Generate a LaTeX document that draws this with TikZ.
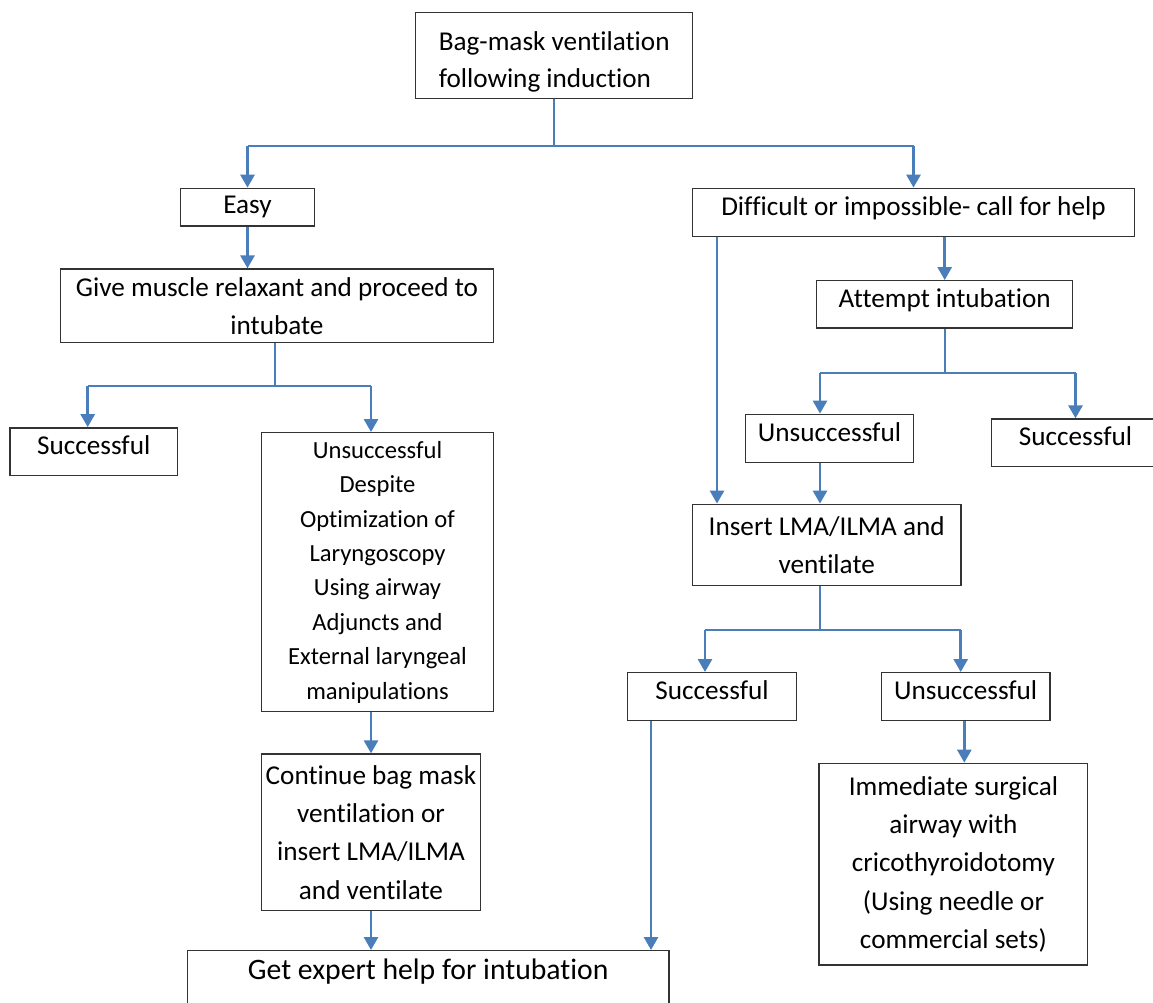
\documentclass[tikz,border=0pt]{standalone}
\usepackage{fontspec}
\setmainfont{Carlito}[Ligatures=NoCommon]
\usepackage{tikz}
\usetikzlibrary{arrows.meta}
\definecolor{flowblue}{RGB}{74,126,187}

\tikzset{
  box/.style={draw=black!80, line width=1.4pt, inner sep=0pt, align=center, font=\fontsize{27.2}{38.3}\selectfont},
  oneline/.style={text height=18pt, text depth=12pt},
  bar/.style={draw=flowblue, line width=2pt},
  arr/.style={draw=flowblue, line width=2.8pt, -{Triangle[width=14pt,length=13pt]}},
}

\begin{document}
\begin{tikzpicture}[x=1pt,y=-1pt]
\useasboundingbox (0,0) rectangle (1153,1003);
\clip (0,0) rectangle (1153,1003);

% boxes, left side
\node [box, align=left, font=\fontsize{27.2}{37}\selectfont, minimum width=277pt, minimum height=86pt] (start) at (554.2,55.7) {\rule{0pt}{31pt}Bag-mask ventilation\\following induction};
\node [box, minimum width=133.6pt, minimum height=37.7pt] (easy) at (247.5,207.2) {Easy};
\node [box, minimum width=432.6pt, minimum height=73.7pt] (give) at (277,305.9) {Give muscle relaxant and proceed to\\intubate};
\node [box, oneline, minimum width=167.4pt, minimum height=47.5pt] (sucl) at (93.7,451.6) {Successful};
\node [box, font=\fontsize{24.6}{34.4}\selectfont, minimum width=231.6pt, minimum height=279pt] (unsl) at (377.5,572.2) {Unsuccessful\\Despite\\Optimization of\\Laryngoscopy\\Using airway\\Adjuncts and\\External laryngeal\\manipulations};
\node [box, minimum width=218.6pt, minimum height=156.7pt] (cont) at (371,832.4) {Continue bag mask\\ventilation or\\insert LMA/ILMA\\and ventilate};
\node [box, font=\fontsize{29.7}{38}\selectfont, anchor=north, minimum width=481.7pt, inner ysep=10pt, text height=19pt, text depth=80pt] (get) at (428.2,950) {Get expert help for intubation};

% boxes, right side
\node [box, oneline, minimum width=442.4pt, minimum height=48.4pt] (diff) at (913.5,212.5) {Difficult or impossible- call for help};
\node [box, oneline, minimum width=256pt, minimum height=47.3pt] (att) at (944.7,304.4) {Attempt intubation};
\node [box, oneline, minimum width=167.6pt, minimum height=48pt] (unsr) at (829.5,438.3) {Unsuccessful};
\node [box, oneline, minimum width=167.6pt, minimum height=47.7pt] (sucr) at (1075.5,442.9) {Successful};
\node [box, minimum width=268.7pt, minimum height=81.4pt] (ins) at (826.7,545) {Insert LMA/ILMA and\\ventilate};
\node [box, oneline, minimum width=168.6pt, minimum height=48pt] (sucb) at (712,696.7) {Successful};
\node [box, oneline, minimum width=168.7pt, minimum height=48pt] (unsb) at (965.7,696.7) {Unsuccessful};
\node [box, minimum width=268.7pt, minimum height=201.7pt] (imm) at (953.4,864.2) {Immediate surgical\\airway with\\cricothyroidotomy\\(Using needle or\\commercial sets)};

% first split
\draw [bar] (start.south) -- ++(0,46.3) coordinate (s1);
\draw [bar] (easy.north |- s1) -- (diff.north |- s1);
\draw [arr] (easy.north |- s1) -- (easy.north);
\draw [arr] (diff.north |- s1) -- (diff.north);

% easy branch
\draw [arr] (easy.south) -- (easy.south |- give.north);
\draw [bar] ([xshift=-2pt]give.south) -- ++(0,42.3) coordinate (s2);
\draw [bar] ([xshift=-6pt]sucl.north |- s2) -- (cont.north |- s2);
\draw [arr] ([xshift=-6pt]sucl.north |- s2) -- ([xshift=-6pt]sucl.north);
\draw [arr] (cont.north |- s2) -- (cont.north |- unsl.north);
\draw [arr] (cont.north |- unsl.south) -- (cont.north);
\draw [arr] (cont.south) -- (cont.south |- get.north);

% difficult branch
\draw [arr] ([xshift=25.4pt]diff.south west) coordinate (d1) -- (d1 |- ins.north);
\draw [arr] (att.north |- diff.south) -- (att.north);
\draw [bar] (att.south) -- ++(0,44.3) coordinate (s3);
\draw [bar] ([xshift=-9.5pt]unsr.north |- s3) -- (sucr.north |- s3);
\draw [arr] ([xshift=-9.5pt]unsr.north |- s3) -- ([xshift=-9.5pt]unsr.north);
\draw [arr] (sucr.north |- s3) -- (sucr.north);
\draw [arr] ([xshift=-9.5pt]unsr.south) -- ([xshift=-9.5pt]unsr.south |- ins.north);

% after the LMA
\draw [bar] ([xshift=-6.7pt]ins.south) -- ++(0,44) coordinate (s4);
\draw [bar] ([xshift=-7pt]sucb.north |- s4) -- ([xshift=-5pt]unsb.north |- s4);
\draw [arr] ([xshift=-7pt]sucb.north |- s4) -- ([xshift=-7pt]sucb.north);
\draw [arr] ([xshift=-5pt]unsb.north |- s4) -- ([xshift=-5pt]unsb.north);
\draw [arr] ([xshift=-1.4pt]unsb.south) -- ([xshift=-1.4pt]unsb.south |- imm.north);
\draw [arr] ([xshift=24pt]sucb.south west) coordinate (d2) -- (d2 |- get.north);
\end{tikzpicture}
\end{document}
